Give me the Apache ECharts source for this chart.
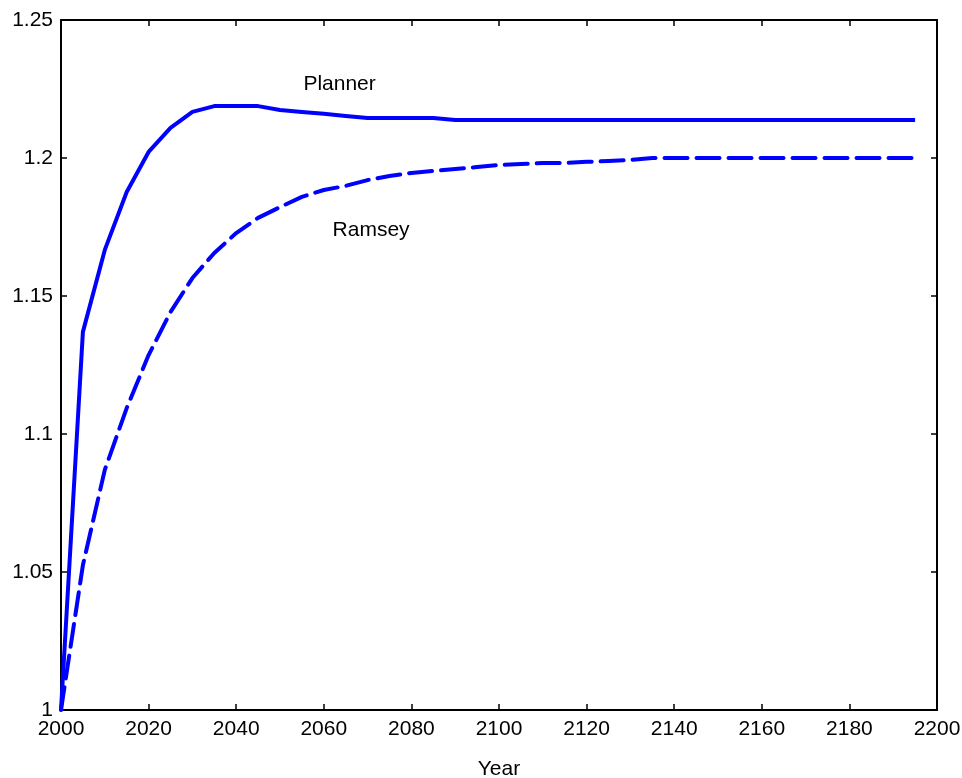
<!DOCTYPE html>
<html>
<head>
<meta charset="utf-8">
<script src="https://cdn.jsdelivr.net/npm/echarts@6/dist/echarts.min.js"></script>
<style>html,body{margin:0;padding:0;background:#fff;}#c{width:962px;height:778px;}</style>
</head>
<body>
<div id="c"></div>
<script>
const years = [2000,2005,2010,2015,2020,2025,2030,2035,2040,2045,2050,2055,2060,2065,2070,2075,2080,2085,2090,2095,2100,2105,2110,2115,2120,2125,2130,2135,2140,2145,2150,2155,2160,2165,2170,2175,2180,2185,2190,2195];
const planner = [1.0,1.137,1.1667,1.1877,1.2022,1.2109,1.2167,1.2188,1.2188,1.2188,1.2174,1.2167,1.216,1.2152,1.2145,1.2145,1.2145,1.2145,1.2138,1.2138,1.2138,1.2138,1.2138,1.2138,1.2138,1.2138,1.2138,1.2138,1.2138,1.2138,1.2138,1.2138,1.2138,1.2138,1.2138,1.2138,1.2138,1.2138,1.2138,1.2138];
const ramsey = [1.0,1.0525,1.087,1.1094,1.1286,1.1442,1.1565,1.1656,1.1728,1.1783,1.1822,1.1859,1.1884,1.1899,1.192,1.1935,1.1946,1.1953,1.196,1.1967,1.1975,1.1978,1.1982,1.1982,1.1986,1.1989,1.1993,1.2,1.2,1.2,1.2,1.2,1.2,1.2,1.2,1.2,1.2,1.2,1.2,1.2];
const xTicks = [2000,2020,2040,2060,2080,2100,2120,2140,2160,2180,2200];
const yTicks = [1,1.05,1.1,1.15,1.2,1.25];
const annotations = [{name:'Planner', coord:[2063.6,1.2268], series:0},{name:'Ramsey', coord:[2070.8,1.1737], series:1}];
const xAxisName = 'Year';

const font = 'Liberation Sans, Arial, sans-serif';
const fs = 21;
const chart = echarts.init(document.getElementById('c'));
const axisLine = {show:true, lineStyle:{color:'#000', width:2}};
const tick = {show:true, inside:true, length:6, lineStyle:{color:'#000', width:1.5}};
function mk(idx){
  const a = annotations.filter(d=>d.series===idx);
  return {symbol:'none', silent:true, data:a.map(d=>({coord:d.coord, value:d.name, symbol:'circle', symbolSize:0,
    label:{show:true, position:'inside', formatter:d.name, color:'#000', fontSize:fs, fontFamily:font}}))};
}
chart.setOption({
  animation:false,
  grid:{left:61, right:25, top:20, bottom:68, containLabel:false, outerBoundsMode:'none'},
  xAxis:[
    {type:'value', min:2000, max:2200, interval:20, position:'bottom',
     name:xAxisName, nameLocation:'middle', nameGap:49, nameTextStyle:{color:'#000', fontSize:fs, fontFamily:font},
     axisLine, axisTick:tick, splitLine:{show:false},
     axisLabel:{color:'#000', fontSize:fs, fontFamily:font, margin:9, formatter:v=>xTicks.includes(v)?String(v):''}},
    {type:'value', min:2000, max:2200, interval:20, position:'top', axisLine, axisTick:tick, axisLabel:{show:false}, splitLine:{show:false}}
  ],
  yAxis:[
    {type:'value', min:1, max:1.25, interval:0.05, position:'left',
     axisLine, axisTick:tick, splitLine:{show:false},
     axisLabel:{color:'#000', fontSize:fs, fontFamily:font, margin:8,
       formatter:v=>{const t=yTicks.find(x=>Math.abs(x-v)<1e-9); return t===undefined?'':String(t);}}},
    {type:'value', min:1, max:1.25, interval:0.05, position:'right', axisLine, axisTick:tick, axisLabel:{show:false}, splitLine:{show:false}}
  ],
  series:[
    {type:'line', name:'Planner', data:years.map((y,i)=>[y,planner[i]]), symbol:'none',
     lineStyle:{color:'#0000ff', width:4, join:'round'}, markPoint:mk(0)},
    {type:'line', name:'Ramsey', data:years.map((y,i)=>[y,ramsey[i]]), symbol:'none',
     lineStyle:{color:'#0000ff', width:4, type:[23,9], cap:'round', join:'round'}, markPoint:mk(1)}
  ]
});
</script>
</body>
</html>
